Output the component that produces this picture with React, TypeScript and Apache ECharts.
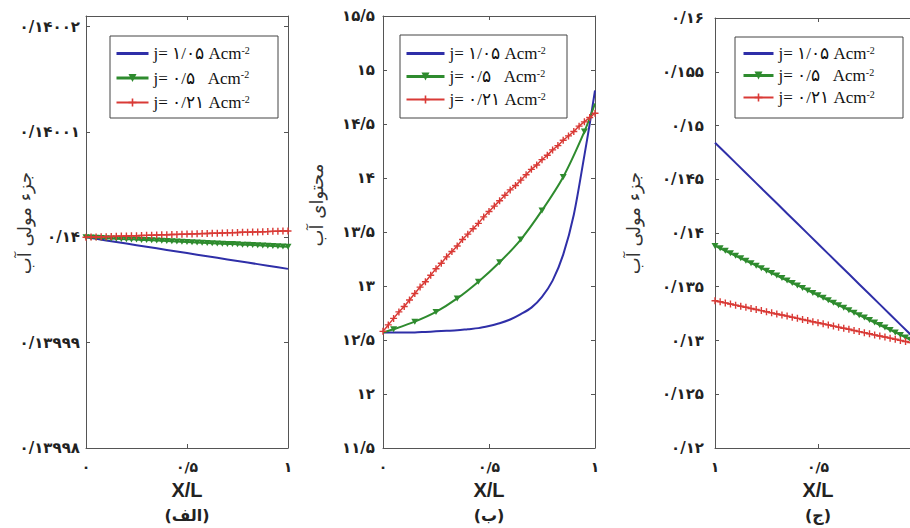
import React, { useEffect, useRef } from 'react';
import * as echarts from 'echarts';

// ---------- text ----------
const seriesNames = ['j= ۱/۰۵ Acm', 'j= ۰/۵   Acm', 'j= ۰/۲۱ Acm'];
const supText = '-2';
const panelLabels = ['(الف)', '(ب)', '(ج)'];
const yNames = ['جزء مولی آب', 'محتوای آب', 'جزء مولی آب'];
const xName = 'X/L';

// ---------- x samples ----------
const xDense = [0, 0.025, 0.05, 0.075, 0.1, 0.125, 0.15, 0.175, 0.2, 0.225, 0.25, 0.275, 0.3, 0.325, 0.35, 0.375, 0.4, 0.425, 0.45, 0.475, 0.5, 0.525, 0.55, 0.575, 0.6, 0.625, 0.65, 0.675, 0.7, 0.725, 0.75, 0.775, 0.8, 0.825, 0.85, 0.875, 0.9, 0.925, 0.95, 0.975, 1];
const xCoarse = [0, 0.05, 0.1, 0.15, 0.2, 0.25, 0.3, 0.35, 0.4, 0.45, 0.5, 0.55, 0.6, 0.65, 0.7, 0.75, 0.8, 0.85, 0.9, 0.95, 1];
const xBlueB = [0, 0.05, 0.1, 0.15, 0.2, 0.25, 0.3, 0.35, 0.4, 0.45, 0.5, 0.55, 0.6, 0.65, 0.7, 0.75, 0.8, 0.85, 0.9, 0.95, 0.975, 1];
const xGreenB = [0, 0.05, 0.15, 0.25, 0.35, 0.45, 0.55, 0.65, 0.75, 0.85, 0.95, 1];

// ---------- panel (الف): mole fraction of water ----------
const blueA = [0.14, 0.13999985, 0.1399997, 0.13999955, 0.1399994, 0.13999925, 0.1399991, 0.13999895, 0.1399988, 0.13999865, 0.1399985, 0.13999835, 0.1399982, 0.13999805, 0.1399979, 0.13999775, 0.1399976, 0.13999745, 0.1399973, 0.13999715, 0.139997];
const greenA = [0.14, 0.13999998, 0.13999996, 0.13999993, 0.13999991, 0.13999989, 0.13999987, 0.13999984, 0.13999982, 0.1399998, 0.13999978, 0.13999975, 0.13999973, 0.13999971, 0.13999969, 0.13999966, 0.13999964, 0.13999962, 0.1399996, 0.13999957, 0.13999955, 0.13999953, 0.13999951, 0.13999948, 0.13999946, 0.13999944, 0.13999942, 0.13999939, 0.13999937, 0.13999935, 0.13999933, 0.1399993, 0.13999928, 0.13999926, 0.13999924, 0.13999921, 0.13999919, 0.13999917, 0.13999915, 0.13999912, 0.1399991];
const redA = [0.14, 0.14000002, 0.14000003, 0.14000005, 0.14000006, 0.14000008, 0.14000009, 0.14000011, 0.14000012, 0.14000014, 0.14000015, 0.14000017, 0.14000018, 0.1400002, 0.14000021, 0.14000023, 0.14000024, 0.14000026, 0.14000027, 0.14000029, 0.1400003, 0.14000032, 0.14000033, 0.14000035, 0.14000036, 0.14000038, 0.14000039, 0.14000041, 0.14000042, 0.14000044, 0.14000045, 0.14000047, 0.14000048, 0.1400005, 0.14000051, 0.14000053, 0.14000054, 0.14000056, 0.14000057, 0.14000059, 0.1400006];

// ---------- panel (ب): water content ----------
const blueB = [12.57, 12.57, 12.57, 12.57, 12.575, 12.58, 12.585, 12.59, 12.6, 12.61, 12.63, 12.655, 12.69, 12.74, 12.8, 12.9, 13.05, 13.29, 13.66, 14.21, 14.5, 14.81];
const greenB = [12.57, 12.6, 12.67, 12.76, 12.885, 13.04, 13.22, 13.43, 13.7, 14.01, 14.43, 14.69];
const redB = [12.58, 12.64, 12.7, 12.76, 12.81, 12.87, 12.93, 12.99, 13.04, 13.1, 13.16, 13.21, 13.27, 13.32, 13.37, 13.43, 13.48, 13.53, 13.58, 13.64, 13.69, 13.74, 13.79, 13.84, 13.89, 13.93, 13.98, 14.03, 14.08, 14.12, 14.17, 14.21, 14.26, 14.3, 14.35, 14.39, 14.43, 14.48, 14.52, 14.56, 14.6];

// ---------- panel (ج): mole fraction of water ----------
const blueC = [0.1296, 0.13054, 0.13148, 0.13242, 0.13336, 0.1343, 0.13524, 0.13618, 0.13712, 0.13806, 0.139, 0.13994, 0.14088, 0.14182, 0.14276, 0.1437, 0.14464, 0.14558, 0.14652, 0.14746, 0.1484];
const greenC = [0.1296, 0.12983, 0.13006, 0.13029, 0.13052, 0.13075, 0.13098, 0.13121, 0.13144, 0.13167, 0.1319, 0.13213, 0.13236, 0.13259, 0.13282, 0.13305, 0.13328, 0.13351, 0.13374, 0.13397, 0.1342, 0.13443, 0.13466, 0.13489, 0.13512, 0.13535, 0.13558, 0.13581, 0.13604, 0.13627, 0.1365, 0.13673, 0.13696, 0.13719, 0.13742, 0.13765, 0.13788, 0.13811, 0.13834, 0.13857, 0.1388];
const redC = [0.1296, 0.1297, 0.12981, 0.12991, 0.13001, 0.13011, 0.13022, 0.13032, 0.13042, 0.13052, 0.13063, 0.13073, 0.13083, 0.13093, 0.13104, 0.13114, 0.13124, 0.13134, 0.13145, 0.13155, 0.13165, 0.13175, 0.13186, 0.13196, 0.13206, 0.13216, 0.13227, 0.13237, 0.13247, 0.13257, 0.13268, 0.13278, 0.13288, 0.13298, 0.13309, 0.13319, 0.13329, 0.13339, 0.1335, 0.1336, 0.1337];

// ---------- axis ranges ----------
const yMin = [0.13998, 11.5, 0.12];
const yMax = [0.140021, 15.5, 0.16];
const yStep = [0.00001, 0.5, 0.005];
const xInverse = [false, false, true];

const FA = '۰۱۲۳۴۵۶۷۸۹';
const toFa = (v: number) =>
  String(parseFloat(v.toFixed(7))).replace(/\d/g, (d) => FA[+d]).replace('.', '/');

const BLUE = '#2f2fa8';
const GREEN = '#2e8b2e';
const RED = '#d93a36';
const AXIS = '#555';
const TRI = 'path://M0,0L10,0L5,9Z';
const PLUS = 'path://M4,0H6V4H10V6H6V10H4V6H0V4H4Z';

const grids = [
  { left: 86, top: 16, width: 202, height: 432 },
  { left: 383, top: 16, width: 212, height: 432 },
  { left: 715, top: 18, width: 206, height: 430 },
];
const legendBoxes = [
  { x: 110, y: 36, w: 168, h: 82, icon: 115, iw: 32, top: 45, gap: 7.5 },
  { x: 400, y: 35, w: 167, h: 83, icon: 405, iw: 38, top: 45, gap: 6 },
  { x: 735, y: 37, w: 168, h: 81, icon: 742, iw: 30, top: 45, gap: 5 },
];
const yNamePos = [
  [24, 223],
  [316, 205],
  [633, 223],
];
const labelMargin = [6, 8, 11];

const zip = (xs: number[], ys: number[]) => xs.map((x, i) => [x, ys[i]]);

export default function App() {
  const ref = useRef<HTMLDivElement>(null);
  useEffect(() => {
    document.body.style.margin = '0';
    const chart = echarts.init(ref.current!, undefined, { renderer: 'svg' });

    const xAxes: any[] = [];
    const yAxes: any[] = [];
    grids.forEach((_, p) => {
      const common = {
        type: 'value',
        gridIndex: p,
        min: 0,
        max: 1,
        interval: 0.5,
        inverse: xInverse[p],
        splitLine: { show: false },
        axisLine: { show: true, onZero: false, lineStyle: { color: AXIS, width: 1 } },
        axisTick: { show: true, inside: true, length: 4, lineStyle: { color: AXIS } },
      };
      xAxes.push({
        ...common,
        position: 'bottom',
        name: xName,
        nameLocation: 'middle',
        nameGap: 32,
        nameTextStyle: { fontFamily: 'Liberation Sans', fontWeight: 'bold', fontSize: 20, color: '#222' },
        axisLabel: {
          margin: 12,
          fontFamily: 'DejaVu Sans',
          fontWeight: 'bold',
          fontSize: 14,
          color: '#222',
          showMinLabel: p === 2 ? false : true,
          formatter: (v: number) => toFa(v),
        },
      });
      xAxes.push({ ...common, position: 'top', axisLabel: { show: false } });
      const yc = {
        type: 'value',
        gridIndex: p,
        min: yMin[p],
        max: yMax[p],
        interval: yStep[p],
        splitLine: { show: false },
        axisLine: { show: true, onZero: false, lineStyle: { color: AXIS, width: 1 } },
        axisTick: { show: true, inside: true, length: 4, lineStyle: { color: AXIS } },
      };
      yAxes.push({
        ...yc,
        position: 'left',
        axisLabel: {
          margin: labelMargin[p],
          fontFamily: 'DejaVu Sans',
          fontWeight: 'bold',
          fontSize: 15,
          color: '#222',
          showMaxLabel: p === 0 ? false : true,
          formatter: (v: number) => toFa(v),
        },
      });
      yAxes.push({ ...yc, position: 'right', axisLabel: { show: false } });
    });

    const mk = (p: number, k: number, xs: number[], ys: number[], noEnds = false) => {
      const color = [BLUE, GREEN, RED][k];
      let data: any[] = zip(xs, ys);
      if (noEnds) {
        data = data.map((d, i) => (i === 0 || i === data.length - 1 ? { value: d, symbol: 'none' } : d));
      }
      return {
        type: 'line',
        name: seriesNames[k],
        xAxisIndex: 2 * p,
        yAxisIndex: 2 * p,
        data,
        smooth: p === 1 ? 0.3 : false,
        symbol: k === 0 ? 'none' : k === 1 ? TRI : PLUS,
        symbolSize: k === 1 ? [7, 6] : 7,
        showSymbol: k !== 0,
        lineStyle: { color, width: k === 2 ? 1.5 : 2 },
        itemStyle: { color },
        z: 2 + k,
      };
    };

    const series = [
      mk(0, 0, xCoarse, blueA),
      mk(0, 1, xDense, greenA),
      mk(0, 2, xDense, redA),
      mk(1, 0, xBlueB, blueB),
      mk(1, 1, xGreenB, greenB, true),
      mk(1, 2, xDense, redB),
      mk(2, 0, xCoarse, blueC),
      mk(2, 1, xDense, greenC),
      mk(2, 2, xDense, redC),
    ];

    const legends = legendBoxes.map((b) => ({
      data: [
        { name: seriesNames[0], itemStyle: { opacity: 0 }, lineStyle: { width: 3 } },
        { name: seriesNames[1], lineStyle: { width: 3 } },
        { name: seriesNames[2], lineStyle: { width: 2 } },
      ],
      orient: 'vertical',
      left: b.icon,
      top: b.top,
      itemWidth: b.iw,
      itemHeight: 10,
      itemGap: b.gap,
      padding: 0,
      z: 10,
      selectedMode: false,
      formatter: (n: string) => `{a|${n}}{b|${supText}}`,
      textStyle: {
        color: '#111',
        rich: {
          a: { fontFamily: 'Liberation Serif, DejaVu Sans', fontSize: 17, lineHeight: 17, color: '#111' },
          b: { fontFamily: 'Liberation Serif', fontSize: 10, lineHeight: 17, verticalAlign: 'top', color: '#111' },
        },
      },
    }));

    const graphic: any[] = [];
    legendBoxes.forEach((b) => {
      graphic.push({
        type: 'rect',
        z: 5,
        shape: { x: b.x, y: b.y, width: b.w, height: b.h },
        style: { fill: '#fff', stroke: '#444', lineWidth: 1 },
      });
    });
    grids.forEach((g, p) => {
      graphic.push({
        type: 'text',
        x: g.left + g.width / 2,
        y: 515,
        style: {
          text: panelLabels[p],
          fontFamily: 'DejaVu Sans',
          fontWeight: 'bold',
          fontSize: 16,
          fill: '#222',
          textAlign: 'center',
          textVerticalAlign: 'middle',
        },
      });
      graphic.push({
        type: 'text',
        x: yNamePos[p][0],
        y: yNamePos[p][1],
        rotation: Math.PI / 2,
        style: {
          text: yNames[p],
          fontFamily: 'DejaVu Sans',
          fontSize: 18,
          fill: '#333',
          textAlign: 'center',
          textVerticalAlign: 'middle',
        },
      });
    });

    chart.setOption({
      animation: false,
      backgroundColor: '#fff',
      grid: grids.map((g) => ({ ...g, containLabel: false, outerBoundsMode: 'none' })),
      xAxis: xAxes,
      yAxis: yAxes,
      legend: legends,
      graphic,
      series,
    });
    return () => chart.dispose();
  }, []);
  return <div ref={ref} style={{ position: 'fixed', left: 0, top: 0, width: 910, height: 528 }} />;
}
